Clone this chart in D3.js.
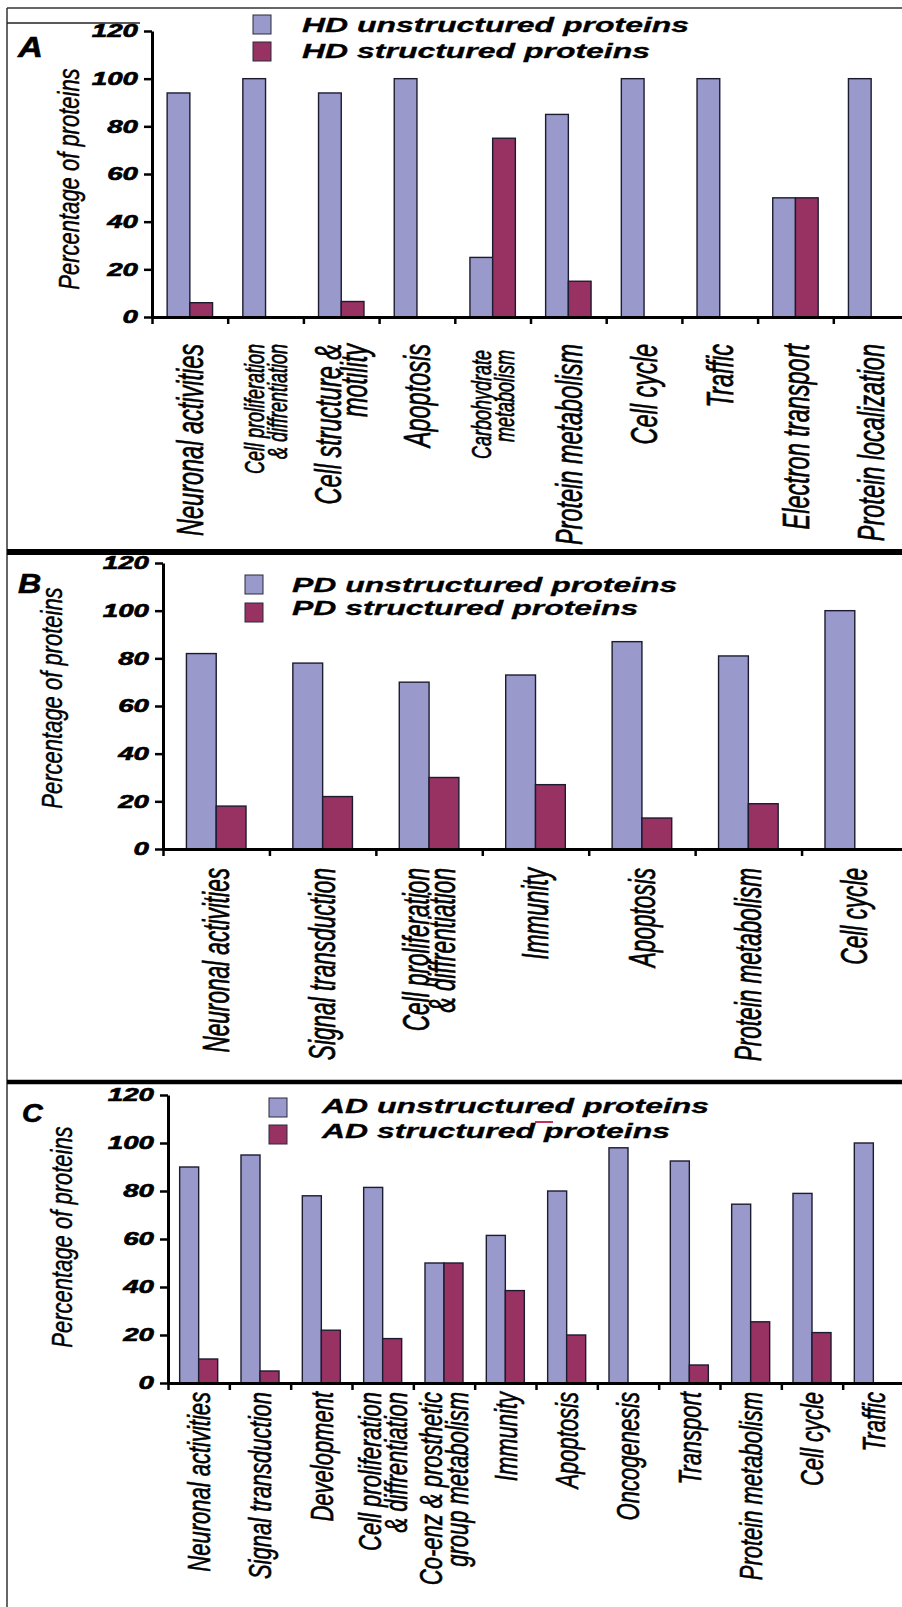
<!DOCTYPE html>
<html>
<head>
<meta charset="utf-8">
<script src="https://cdn.jsdelivr.net/npm/d3@7"></script>
<style>
body{margin:0;background:#fff;}
svg{display:block;font-family:"Liberation Sans",Arial,sans-serif;}
</style>
</head>
<body>
<script>
//Data:
var yTicks = [0, 20, 40, 60, 80, 100, 120];

var catsA = ["Neuronal activities", "Cell proliferation\n& diffrentiation", "Cell structure &\nmotility",
    "Apoptosis", "Carbohydrate\nmetabolism", "Protein metabolism", "Cell cycle", "Traffic",
    "Electron transport", "Protein localization"];
var hdUnstructured = [94, 100, 94, 100, 25, 85, 100, 100, 50, 100];
var hdStructured   = [6, 0, 6.5, 0, 75, 15, 0, 0, 50, 0];

var catsB = ["Neuronal activities", "Signal transduction", "Cell proliferation\n& diffrentiation",
    "Immunity", "Apoptosis", "Protein metabolism", "Cell cycle"];
var pdUnstructured = [82, 78, 70, 73, 87, 81, 100];
var pdStructured   = [18, 22, 30, 27, 13, 19, 0];

var catsC = ["Neuronal activities", "Signal transduction", "Development", "Cell proliferation\n& diffrentiation",
    "Co-enz & prosthetic\ngroup metabolism", "Immunity", "Apoptosis", "Oncogenesis", "Transport",
    "Protein metabolism", "Cell cycle", "Traffic"];
var adUnstructured = [90, 95, 78, 81.5, 50, 61.5, 80, 98, 92.5, 74.5, 79, 100];
var adStructured   = [10, 5, 22, 18.5, 50, 38.5, 20, 0, 7.5, 25.5, 21, 0];

var blue = '#9999cc', red = '#983262';

//Size Globals:
var W = 902, H = 1607;
var svg = d3.select('body').append('svg')
    .attr('id', 'mainsvg')
    .attr('width', W)
    .attr('height', H);

svg.append('rect').attr('width', W).attr('height', H).attr('fill', '#fff');

//Frame lines
function hline(y, x1, x2, w, c) {
    svg.append('line').attr('x1', x1).attr('x2', x2).attr('y1', y).attr('y2', y)
        .attr('stroke', c || '#222').attr('stroke-width', w);
}
svg.append('line').attr('x1', 7).attr('x2', 7).attr('y1', 8).attr('y2', H)
    .attr('stroke', '#333').attr('stroke-width', 1.5);
hline(8, 7, W, 1.5, '#333');
hline(23, 7, 140, 1.5, '#222');
hline(552, 7, W, 6, '#000');
hline(1082, 7, W, 4.5, '#000');

//Panels
var panels = [
    {letter: 'A', letterX: 18, letterY: 57, letterSize: 30,
     cats: catsA, series: [hdUnstructured, hdStructured],
     names: ['HD unstructured proteins', 'HD structured proteins'],
     x0: 152, x1: 909, y0: 317, y120: 31, group: 0.6,
     labelTop: 344, labelSize: 23.5, labelStretch: 1.6, small: [1, 4],
     yLabelX: 69, yLabelY: 179,
     legX: 253, legY: [15, 42], legTextX: 302, legBase: [32, 58]},
    {letter: 'B', letterX: 18, letterY: 593, letterSize: 28,
     cats: catsB, series: [pdUnstructured, pdStructured],
     names: ['PD unstructured proteins', 'PD structured proteins'],
     x0: 163, x1: 908, y0: 849, y120: 563, group: 0.56,
     labelTop: 868, labelSize: 22.6, labelStretch: 1.6, small: [],
     yLabelX: 52, yLabelY: 698,
     legX: 245, legY: [575, 603], legTextX: 292, legBase: [592, 615]},
    {letter: 'C', letterX: 22, letterY: 1122, letterSize: 25,
     cats: catsC, series: [adUnstructured, adStructured],
     names: ['AD unstructured proteins', 'AD structured proteins'],
     x0: 168, x1: 904, y0: 1383, y120: 1095, group: 0.62,
     labelTop: 1392, labelSize: 22, labelStretch: 1.45, small: [],
     yLabelX: 62, yLabelY: 1237,
     legX: 269, legY: [1098, 1125], legTextX: 322, legBase: [1113, 1138]}
];

panels.forEach(function(p) {
    var g = svg.append('g');
    var y = d3.scaleLinear().domain([0, 120]).range([p.y0, p.y120]);
    var x = d3.scaleBand().domain(p.cats).range([p.x0, p.x1]).padding(0);
    var bw = x.bandwidth();
    var xs = d3.scaleBand().domain([0, 1])
        .range([bw * (1 - p.group) / 2, bw * (1 + p.group) / 2]).padding(0);
    var colors = [blue, red];

    //Bars
    p.series.forEach(function(vals, si) {
        g.append('g').selectAll('rect')
            .data(vals.map(function(v, i) { return {c: p.cats[i], v: v}; })
                .filter(function(d) { return d.v > 0; }))
            .enter().append('rect')
            .attr('x', function(d) { return x(d.c) + xs(si); })
            .attr('width', xs.bandwidth())
            .attr('y', function(d) { return y(d.v); })
            .attr('height', function(d) { return y(0) - y(d.v); })
            .attr('fill', colors[si])
            .attr('stroke', '#1c1c30')
            .attr('stroke-width', 1.4);
    });

    //Y axis
    var ya = g.append('g').attr('transform', 'translate(' + p.x0 + ',0)')
        .call(d3.axisLeft(y).tickValues(yTicks).tickSize(8).tickSizeOuter(0));
    ya.select('.domain').attr('stroke', '#000').attr('stroke-width', 3);
    ya.selectAll('.tick line').attr('stroke', '#000').attr('stroke-width', 2.5);
    ya.selectAll('.tick text')
        .attr('x', null)
        .attr('transform', 'translate(-14,0) scale(1.5,1)')
        .attr('fill', '#000')
        .attr('stroke', '#000')
        .attr('stroke-width', 0.6)
        .style('font-size', '18.5px')
        .style('font-weight', 'bold')
        .style('font-style', 'italic');

    //X axis, ticks at the band edges
    var edge = d3.scaleLinear().domain([0, p.cats.length]).range([p.x0, p.x1]);
    var xa = g.append('g').attr('transform', 'translate(0,' + p.y0 + ')')
        .call(d3.axisBottom(edge).tickValues(d3.range(0, p.cats.length + 1))
            .tickFormat('').tickSize(7).tickSizeOuter(0));
    xa.select('.domain').attr('stroke', '#000').attr('stroke-width', 3);
    xa.selectAll('.tick line').attr('stroke', '#000').attr('stroke-width', 2.5);

    //Category labels
    p.cats.forEach(function(c, i) {
        var lines = c.split('\n');
        var small = p.small.indexOf(i) >= 0;
        var fs = small ? 18 : p.labelSize;
        var gap = small ? 23 : 26;
        var st = small ? 1.55 : p.labelStretch;
        var top = p.labelTop + (small && i === 4 ? 6 : 0);
        var cx = x(c) + bw / 2;
        lines.forEach(function(t, k) {
            var lx = cx + (k - (lines.length - 1) / 2) * gap;
            g.append('text')
                .attr('transform', 'translate(' + lx + ',' + top + ') scale(' + st + ',1) rotate(-90)')
                .attr('text-anchor', 'end')
                .attr('dy', '0.35em')
                .attr('stroke', '#000')
                .attr('stroke-width', 0.45)
                .style('font-size', fs + 'px')
                .style('font-style', 'italic')
                .text(t);
        });
    });

    //Y label
    g.append('text')
        .attr('transform', 'translate(' + p.yLabelX + ',' + p.yLabelY + ') scale(1.3,1) rotate(-90)')
        .attr('text-anchor', 'middle')
        .attr('dy', '0.35em')
        .attr('stroke', '#000')
        .attr('stroke-width', 0.35)
        .style('font-size', '22px')
        .style('font-style', 'italic')
        .text('Percentage of proteins');

    //Panel letter
    g.append('text')
        .attr('transform', 'translate(' + p.letterX + ',' + p.letterY + ') scale(1.15,1)')
        .attr('stroke', '#000')
        .attr('stroke-width', 0.6)
        .style('font-size', p.letterSize + 'px')
        .style('font-weight', 'bold')
        .style('font-style', 'italic')
        .text(p.letter);

    //Legend
    p.names.forEach(function(n, k) {
        g.append('rect')
            .attr('x', p.legX).attr('y', p.legY[k])
            .attr('width', 18).attr('height', 19)
            .attr('fill', colors[k])
            .attr('stroke', '#2a2a3a').attr('stroke-width', 1);
        g.append('text')
            .attr('transform', 'translate(' + p.legTextX + ',' + p.legBase[k] + ') scale(1.64,1)')
            .attr('stroke', '#000')
            .attr('stroke-width', 0.3)
            .style('font-size', '19.5px')
            .style('font-weight', 'bold')
            .style('font-style', 'italic')
            .text(n);
    });
});

//small red stray mark in the C legend
hline(1122, 535, 553, 2, '#c0305a');
</script>
</body>
</html>
